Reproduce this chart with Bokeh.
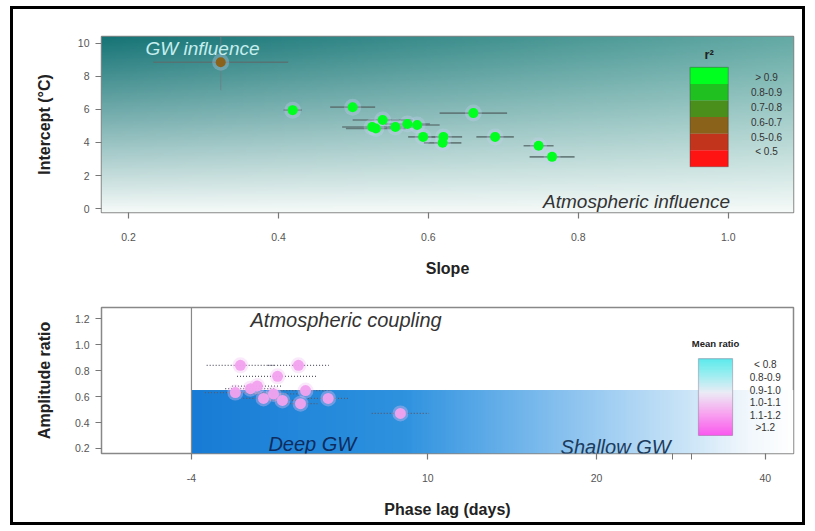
import numpy as np
from bokeh.plotting import figure
from bokeh.layouts import column
from bokeh.models import (ColumnDataSource, FixedTicker, Label, Span, BoxAnnotation)
from bokeh.embed import file_html
from bokeh.resources import INLINE

FONT = "Liberation Sans"

# ---------------- data: top panel (slope vs intercept) ----------------
top_slope = [0.323, 0.419, 0.499, 0.525, 0.530, 0.539, 0.556, 0.572, 0.585,
             0.593, 0.620, 0.619, 0.660, 0.689, 0.747, 0.765]
top_intercept = [8.86, 5.96, 6.14, 4.94, 4.85, 5.36, 4.94, 5.12, 5.06,
                 4.34, 4.34, 3.98, 5.78, 4.34, 3.80, 3.13]
slope_err = [0.09, 0.012, 0.03, 0.04, 0.04, 0.04, 0.035, 0.03, 0.03,
             0.02, 0.025, 0.025, 0.045, 0.025, 0.02, 0.03]
intercept_err = [1.7, 0.3, 0.3, 0.2, 0.2, 0.2, 0.2, 0.2, 0.2,
                 0.2, 0.2, 0.2, 0.3, 0.15, 0.2, 0.2]
top_r2_class = ["0.6-0.7"] + ["> 0.9"] * 15

r2_labels = ["> 0.9", "0.8-0.9", "0.7-0.8", "0.6-0.7", "0.5-0.6", "< 0.5"]
r2_colors = ["#00ff1e", "#20c020", "#4a8e1c", "#8a621a", "#c2341c", "#ff1414"]

x_ticks_top = [0.2, 0.4, 0.6, 0.8, 1.0]
x_tick_labels_top = ["0.2", "0.4", "0.6", "0.8", "1.0"]
y_ticks_top = [0, 2, 4, 6, 8, 10]

# ---------------- data: bottom panel (phase lag vs amplitude ratio) ----------------
phase_lag = [-1.1, 2.34, 1.1, -1.4, -0.5, -0.1, 0.27, 0.86, 1.39, 2.46, 2.76, 4.1, 8.38]
amp_ratio = [0.84, 0.84, 0.755, 0.63, 0.66, 0.68, 0.585, 0.62, 0.57, 0.545, 0.646, 0.585, 0.47]
lag_err = [2.0, 1.8, 2.4, 1.8, 1.5, 1.5, 1.2, 1.5, 1.2, 1.0, 1.5, 1.2, 1.7]

ratio_labels = ["< 0.8", "0.8-0.9", "0.9-1.0", "1.0-1.1", "1.1-1.2", ">1.2"]
x_ticks_bot = [-4, 10, 20, 30]
x_tick_labels_bot = ["-4", "10", "20", "40"]
x_minor_bot = [24.5, 25.6]
y_ticks_bot = [0.2, 0.4, 0.6, 0.8, 1.0, 1.2]
y_tick_labels_bot = ["0.2", "0.4", "0.6", "0.8", "1.0", "1.2"]
deep_gw_lag = -4
deep_gw_ratio = 0.65

# ---------------- ranges ----------------
XR1 = (0.164, 1.087)
YR1 = (-0.24, 10.42)
XR2 = (-9.33, 31.67)
YR2 = (0.1615, 1.285)


def rgba_image(rgb):
    ny, nx, _ = rgb.shape
    img = np.empty((ny, nx), dtype=np.uint32)
    v = img.view(dtype=np.uint8).reshape((ny, nx, 4))
    v[:, :, :3] = np.clip(rgb, 0, 255).astype(np.uint8)
    v[:, :, 3] = 255
    return img


def style_axes(p, xticks, yticks):
    p.xaxis.ticker = FixedTicker(ticks=xticks)
    p.yaxis.ticker = FixedTicker(ticks=yticks)
    for ax in (p.xaxis[0], p.yaxis[0]):
        ax.axis_line_color = None
        ax.major_tick_line_color = "#777777"
        ax.minor_tick_line_color = "#777777"
        ax.major_tick_line_width = 1.2
        ax.major_tick_in = 0
        ax.minor_tick_in = 0
        ax.major_tick_out = 6
        ax.minor_tick_out = 6
        ax.major_label_text_font = FONT
        ax.major_label_text_font_size = "10.5px"
        ax.major_label_text_color = "#555555"
        ax.axis_label_text_font = FONT
        ax.axis_label_text_font_size = "16px"
        ax.axis_label_text_font_style = "bold"
        ax.axis_label_text_color = "#222222"
    p.xaxis.major_label_standoff = 14
    p.yaxis.major_label_standoff = 6
    p.xgrid.visible = False
    p.ygrid.visible = False
    p.outline_line_color = "#888888"
    p.outline_line_width = 1.5
    p.background_fill_color = "white"
    p.border_fill_color = "white"


# ================= TOP PANEL =================
p1 = figure(width=789, height=270, x_range=XR1, y_range=YR1,
            output_backend="svg", toolbar_location=None,
            min_border_left=88, min_border_right=9,
            min_border_top=27, min_border_bottom=66)
style_axes(p1, x_ticks_top, y_ticks_top)
p1.xaxis.major_label_overrides = dict(zip(x_ticks_top, x_tick_labels_top))
p1.xaxis.axis_label = "Slope"
p1.yaxis.axis_label = "Intercept (°C)"
p1.xaxis.axis_label_standoff = 16
p1.yaxis.axis_label_standoff = 22

# teal background gradient
nx, ny = 200, 120
u = np.linspace(0, 1, nx)[None, :, None]
t = np.linspace(0, 1, ny)[:, None, None]
teal_l = np.array([22, 116, 118])
teal_r = np.array([100, 170, 165])
white = np.array([246, 251, 249])
top_col = teal_l + (teal_r - teal_l) * u
rgb = white + (top_col - white) * (t ** 0.95)
p1.image_rgba(image=[rgba_image(rgb)], x=XR1[0], y=YR1[0],
              dw=XR1[1] - XR1[0], dh=YR1[1] - YR1[0])

col_map = dict(zip(r2_labels, r2_colors))
src1 = ColumnDataSource(dict(
    x=top_slope, y=top_intercept,
    x0=[s - e for s, e in zip(top_slope, slope_err)],
    x1=[s + e for s, e in zip(top_slope, slope_err)],
    y0=[v - e for v, e in zip(top_intercept, intercept_err)],
    y1=[v + e for v, e in zip(top_intercept, intercept_err)],
    c=[col_map[k] for k in top_r2_class],
))
p1.segment(x0="x0", y0="y", x1="x1", y1="y", source=src1,
           line_color="#5a6e6e", line_width=1.6, line_alpha=0.85)
p1.segment(x0="x", y0="y0", x1="x", y1="y1", source=src1,
           line_color="#6a7e86", line_width=1.4, line_alpha=0.6)
p1.scatter(x="x", y="y", source=src1, size=17, fill_color="#c8cff2",
           fill_alpha=0.3, line_color=None)
p1.scatter(x="x", y="y", source=src1, size=10, fill_color="c",
           line_color=None)

# r2 legend
lx0, lx1 = 0.949, 1.0
ly_top, ly_bot = 8.55, 2.53
band = (ly_top - ly_bot) / len(r2_labels)
leg_src = ColumnDataSource(dict(
    x=[(lx0 + lx1) / 2] * len(r2_labels),
    y=[ly_top - band * (i + 0.5) for i in range(len(r2_labels))],
    c=r2_colors))
p1.rect(x="x", y="y", width=lx1 - lx0, height=band, source=leg_src,
        fill_color="c", line_color=None)
p1.add_layout(BoxAnnotation(left=lx0, right=lx1, bottom=ly_bot, top=ly_top,
                            fill_color=None, line_color="#333333", line_width=1.2))
for i, lab in enumerate(r2_labels):
    p1.add_layout(Label(x=1.051, y=7.95 - i * 0.905, text=lab,
                        text_font=FONT, text_font_size="10px",
                        text_color="#333333", text_align="center",
                        text_baseline="middle"))
p1.add_layout(Label(x=0.9745, y=9.35, text="r²", text_font=FONT,
                    text_font_size="13px", text_font_style="bold",
                    text_color="#222222", text_align="center",
                    text_baseline="middle"))

p1.add_layout(Label(x=0.2227, y=9.72, text="GW influence", text_font=FONT,
                    text_font_size="19px", text_font_style="italic",
                    text_color="#c6eeee", text_baseline="middle"))
p1.add_layout(Label(x=0.753, y=0.42, text="Atmospheric influence", text_font=FONT,
                    text_font_size="19px", text_font_style="italic",
                    text_color="#333333", text_baseline="middle"))

# ================= BOTTOM PANEL =================
p2 = figure(width=789, height=243, x_range=XR2, y_range=YR2,
            output_backend="svg", toolbar_location=None,
            min_border_left=88, min_border_right=9,
            min_border_top=28, min_border_bottom=69)
style_axes(p2, x_ticks_bot, y_ticks_bot)
p2.xaxis.ticker = FixedTicker(ticks=x_ticks_bot, minor_ticks=x_minor_bot)
p2.xaxis.major_label_overrides = dict(zip(x_ticks_bot, x_tick_labels_bot))
p2.yaxis.major_label_overrides = dict(zip(y_ticks_bot, y_tick_labels_bot))
p2.xaxis.axis_label = "Phase lag (days)"
p2.yaxis.axis_label = "Amplitude ratio"
p2.xaxis.axis_label_standoff = 16
p2.yaxis.axis_label_standoff = 19

# blue "deep GW" zone with horizontal fade
nxb = 300
ub = np.linspace(0, 1, nxb)
stops_u = [0.0, 0.35, 0.6, 0.83, 0.92, 1.0]
stops_c = np.array([[24, 124, 214], [46, 146, 223], [130, 190, 238],
                    [205, 230, 248], [240, 247, 252], [255, 255, 255]])
rgb_b = np.stack([np.interp(ub, stops_u, stops_c[:, k]) for k in range(3)], axis=-1)
rgb_b = np.repeat(rgb_b[None, :, :], 4, axis=0)
p2.image_rgba(image=[rgba_image(rgb_b)], x=deep_gw_lag, y=YR2[0],
              dw=XR2[1] - deep_gw_lag, dh=deep_gw_ratio - YR2[0])
p2.add_layout(Span(location=deep_gw_lag, dimension="height",
                   line_color="#888888", line_width=1.2))

src2 = ColumnDataSource(dict(
    x=phase_lag, y=amp_ratio,
    x0=[a - e for a, e in zip(phase_lag, lag_err)],
    x1=[a + e for a, e in zip(phase_lag, lag_err)],
))
p2.segment(x0="x0", y0="y", x1="x1", y1="y", source=src2,
           line_color="#5a5a6a", line_width=1.3, line_dash="1 2")
p2.scatter(x="x", y="y", source=src2, size=16, fill_color="#f0c0f0",
           fill_alpha=0.35, line_color=None)
p2.scatter(x="x", y="y", source=src2, size=11, fill_color="#f2a2ee",
           fill_alpha=0.95, line_color=None)

# mean ratio legend
bx0, bx1, by0, by1 = 26.04, 28.06, 0.30, 0.892
nyl = 100
tl = np.linspace(0, 1, nyl)
lstops_t = [0.0, 0.3, 0.55, 0.8, 1.0]
lstops_c = np.array([[250, 90, 238], [248, 170, 240], [236, 236, 246],
                     [150, 238, 240], [90, 234, 236]])
rgb_l = np.stack([np.interp(tl, lstops_t, lstops_c[:, k]) for k in range(3)], axis=-1)
rgb_l = np.repeat(rgb_l[:, None, :], 4, axis=1)
p2.image_rgba(image=[rgba_image(rgb_l)], x=bx0, y=by0, dw=bx1 - bx0, dh=by1 - by0)
p2.add_layout(BoxAnnotation(left=bx0, right=bx1, bottom=by0, top=by1,
                            fill_color=None, line_color="#6a4a6a", line_width=1.2))
for i, lab in enumerate(ratio_labels):
    p2.add_layout(Label(x=30.0, y=0.846 - i * 0.0968, text=lab, text_font=FONT,
                        text_font_size="10px", text_color="#333333",
                        text_align="center", text_baseline="middle"))
p2.add_layout(Label(x=27.05, y=1.008, text="Mean ratio", text_font=FONT,
                    text_font_size="9.5px", text_font_style="bold",
                    text_color="#222222", text_align="center",
                    text_baseline="middle"))

p2.add_layout(Label(x=-0.5, y=1.185, text="Atmospheric coupling", text_font=FONT,
                    text_font_size="20px", text_font_style="italic",
                    text_color="#333333", text_baseline="middle"))
p2.add_layout(Label(x=0.56, y=0.238, text="Deep GW", text_font=FONT,
                    text_font_size="20px", text_font_style="italic",
                    text_color="#0e2c5e", text_baseline="middle"))
p2.add_layout(Label(x=17.87, y=0.215, text="Shallow GW", text_font=FONT,
                    text_font_size="20px", text_font_style="italic",
                    text_color="#1c3c5e", text_baseline="middle"))

layout = column(p1, p2, spacing=0,
                styles={"border": "3px solid black", "margin-left": "10px",
                        "margin-top": "6px"})

open("out.html", "w").write(file_html(layout, INLINE))
